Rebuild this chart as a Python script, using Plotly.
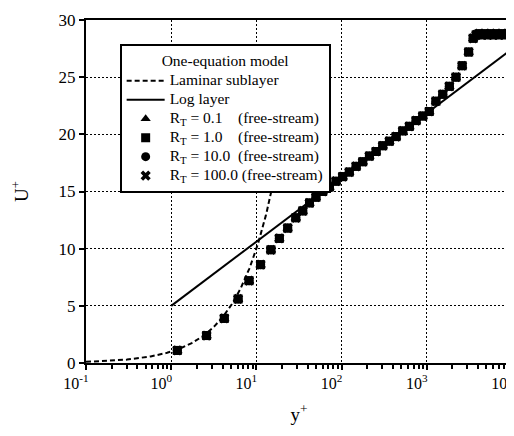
import numpy as np
import plotly.graph_objects as go

# ---- data ----
# one-equation model results (all four free-stream R_T cases collapse)
yplus_data = [1.18, 2.6, 4.2, 6.1, 8.2, 11.2, 14.8, 18.6, 23.3, 29, 35, 42, 50, 60, 72, 86,
              103, 123, 148, 177, 212, 254, 304, 364, 436, 522, 625, 748, 896, 1070, 1280,
              1540, 1840, 2200, 2600, 3100, 3500, 3800, 4100, 4400, 4800, 5200, 5600, 6000,
              6500, 7000, 7600, 8200, 8900, 9600, 10000]
uplus_data = [1.1, 2.4, 3.9, 5.6, 7.2, 8.6, 9.9, 10.9, 11.8, 12.7, 13.3, 14.0, 14.5, 15.0, 15.4, 15.9,
              16.3, 16.7, 17.2, 17.6, 18.1, 18.5, 19.0, 19.4, 19.8, 20.3, 20.7, 21.2, 21.6, 22.0, 22.9,
              23.5, 24.2, 25.0, 26.0, 27.2, 28.4, 28.7, 28.8, 28.7, 28.8, 28.7, 28.8, 28.7,
              28.8, 28.7, 28.8, 28.7, 28.8, 28.7, 28.8]

NB = "\u00a0"
series_labels = ["R<sub>T</sub> = 0.1" + NB * 4 + "(free-stream)",
                 "R<sub>T</sub> = 1.0" + NB * 4 + "(free-stream)",
                 "R<sub>T</sub> = 10.0" + NB * 2 + "(free-stream)",
                 "R<sub>T</sub> = 100.0" + NB + "(free-stream)"]
series_symbols = ["triangle-up", "square", "circle", "x"]
line_labels = ["Laminar sublayer", "Log layer"]
legend_title = "One-equation model"

# theoretical laws
kappa = 0.41
B = 5.0
lam_range = (0.1, 25.0)
log_range = (1.0, 1.0e4)

x_tickvals = [0.1, 1, 10, 100, 1000, 10000]
x_ticktext = ["10<sup>-1</sup>", "10<sup>0</sup>", "10<sup>1</sup>",
              "10<sup>2</sup>", "10<sup>3</sup>", "10<sup>4</sup>"]
y_tickvals = [0, 5, 10, 15, 20, 25, 30]

FONT = "Liberation Serif"
LEG_PX = 15.5


def big(t):
    return '<span style="font-size:%spx">%s</span>' % (LEG_PX, t)


lam_y = np.logspace(np.log10(lam_range[0]), np.log10(lam_range[1]), 200)
lam_u = lam_y
log_y = np.logspace(np.log10(log_range[0]), np.log10(log_range[1]), 200)
log_u = np.log(log_y) / kappa + B

fig = go.Figure()
fig.add_trace(go.Scatter(x=lam_y, y=lam_u, mode="lines", name=big(line_labels[0]),
                         line=dict(color="black", width=2, dash="5px,3px"), legendrank=1))
fig.add_trace(go.Scatter(x=log_y, y=log_u, mode="lines", name=big(line_labels[1]),
                         line=dict(color="black", width=2), legendrank=2))

draw_order = [0, 2, 3, 1]  # squares drawn last (on top)
for i in draw_order:
    fig.add_trace(go.Scatter(x=yplus_data, y=uplus_data, mode="markers", name=big(series_labels[i]),
                             marker=dict(symbol=series_symbols[i], size=9, color="black",
                                         line=dict(width=0)),
                             legendrank=3 + i))

axis_common = dict(showline=True, linecolor="black", linewidth=2, mirror=True,
                   ticks="outside", tickcolor="black", tickwidth=1.5, automargin=False,
                   showgrid=True, gridcolor="black", gridwidth=1, griddash="2px,2px",
                   zeroline=False)

fig.update_xaxes(type="log", range=[-1, 4], tickmode="array", tickvals=x_tickvals,
                 ticktext=x_ticktext, ticklen=5, ticklabeloverflow="allow", ticklabelshift=-10,
                 tickfont=dict(family=FONT, size=16, color="black"),
                 minor=dict(ticks="outside", ticklen=4, dtick="D1", tickcolor="black",
                            showgrid=False),
                 title=dict(text="y<sup>+</sup>", font=dict(family=FONT, size=19, color="black"),
                            standoff=16),
                 **axis_common)
fig.update_yaxes(range=[0, 30], tickmode="array", tickvals=y_tickvals, ticklen=5,
                 tickfont=dict(family=FONT, size=17, color="black"),
                 title=dict(text="U<sup>+</sup>", font=dict(family=FONT, size=19, color="black"),
                            standoff=26),
                 **axis_common)

fig.update_layout(
    width=514, height=436,
    margin=dict(l=78, r=10, t=12, b=81, autoexpand=False),
    paper_bgcolor="white", plot_bgcolor="white",
    font=dict(family=FONT, size=14, color="black"),
    showlegend=True,
    legend=dict(x=0.079, y=0.93, xanchor="left", yanchor="top",
                bgcolor="white", bordercolor="black", borderwidth=2,
                font=dict(family=FONT, size=11, color="black"),
                title=dict(text=legend_title, side="top center",
                           font=dict(family=FONT, size=LEG_PX, color="black")),
                tracegroupgap=0, itemwidth=38),
)

fig.write_html("out.html")
